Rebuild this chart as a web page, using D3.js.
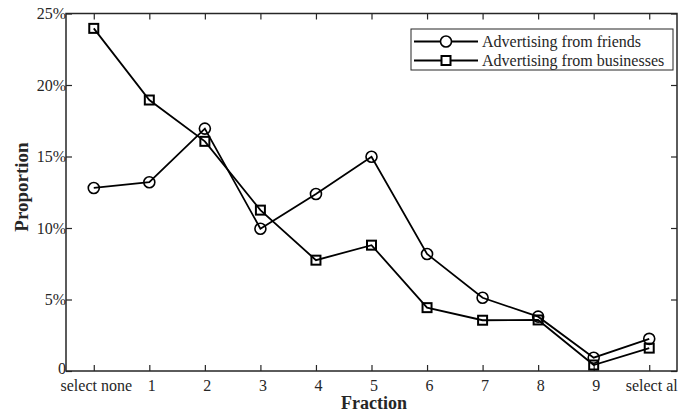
<!DOCTYPE html>
<html>
<head>
<meta charset="utf-8">
<script src="https://cdn.jsdelivr.net/npm/d3@7"></script>
<style>
  body { margin: 0; background: #fff; }
  svg text { font-family: "Liberation Serif", "Times New Roman", serif; fill: #262626; }
</style>
</head>
<body>
<svg width="678" height="414"></svg>
<script>
// data
const categories = ["select none", "1", "2", "3", "4", "5", "6", "7", "8", "9", "select al"];
const friends = [12.8, 13.2, 16.95, 9.95, 12.38, 14.98, 8.18, 5.12, 3.8, 0.93, 2.25];
const businesses = [23.96, 18.95, 16.06, 11.25, 7.75, 8.8, 4.43, 3.55, 3.57, 0.42, 1.6];
const yTicks = [0, 5, 10, 15, 20, 25];
const seriesNames = ["Advertising from friends", "Advertising from businesses"];

const svg = d3.select("svg");
const plotL = 66, plotR = 677, plotT = 13.5, plotB = 371;
const ink = "#262626";

const x = d3.scalePoint().domain(categories).range([plotL, plotR]).padding(0.5);
const y = d3.scaleLinear().domain([0, 25]).range([plotB, plotT]);

// bottom axis - ticks point inward
const xAxis = svg.append("g")
    .attr("transform", `translate(0,${plotB})`)
    .call(d3.axisBottom(x).tickSizeInner(-6).tickSizeOuter(0).tickPadding(9));
xAxis.selectAll("text").attr("dx", 2).style("font-size", "16px");

// top mirror ticks
svg.append("g")
    .attr("transform", `translate(0,${plotT})`)
    .call(d3.axisTop(x).tickSizeInner(-6).tickSizeOuter(0).tickFormat(""));

// left axis
const yAxis = svg.append("g")
    .attr("transform", `translate(${plotL},0)`)
    .call(d3.axisLeft(y).tickValues(yTicks).tickSizeInner(-6).tickSizeOuter(0).tickPadding(0)
        .tickFormat(d => d === 0 ? "0" : d + "%"));
yAxis.selectAll("text").attr("x", 0).style("font-size", "16px")
    .attr("dy", d => d === 0 ? "0.15em" : "0.32em");

// right mirror ticks
svg.append("g")
    .attr("transform", `translate(${plotR},0)`)
    .call(d3.axisRight(y).tickValues(yTicks).tickSizeInner(-6).tickSizeOuter(0).tickFormat(""));

svg.selectAll(".domain").remove();
svg.selectAll(".tick line").attr("stroke", ink).attr("stroke-width", 1.2);
svg.selectAll(".tick text").attr("fill", ink).style("font-family", "Liberation Serif, serif");

// box
svg.append("rect")
    .attr("x", plotL).attr("y", plotT)
    .attr("width", plotR - plotL).attr("height", plotB - plotT)
    .attr("fill", "none").attr("stroke", ink).attr("stroke-width", 1.5);

// axis titles
svg.append("text")
    .attr("x", 374).attr("y", 409)
    .attr("text-anchor", "middle")
    .style("font-size", "18px").style("font-weight", "bold")
    .text("Fraction");

svg.append("text")
    .attr("transform", "translate(28,187) rotate(-90)")
    .attr("text-anchor", "middle")
    .style("font-size", "19px").style("font-weight", "bold")
    .text("Proportion");

const line = d3.line().x((d, i) => x(categories[i])).y(d => y(d));

// friends series
svg.append("path").datum(friends)
    .attr("d", line).attr("fill", "none")
    .attr("stroke", "#000").attr("stroke-width", 1.8);
svg.append("g").selectAll("circle").data(friends).enter().append("circle")
    .attr("cx", (d, i) => x(categories[i])).attr("cy", d => y(d))
    .attr("r", 5.5).attr("fill", "none")
    .attr("stroke", "#000").attr("stroke-width", 1.6);

// businesses series
svg.append("path").datum(businesses)
    .attr("d", line).attr("fill", "none")
    .attr("stroke", "#000").attr("stroke-width", 1.8);
svg.append("g").selectAll("rect").data(businesses).enter().append("rect")
    .attr("x", (d, i) => x(categories[i]) - 4.5).attr("y", d => y(d) - 4.5)
    .attr("width", 9).attr("height", 9).attr("fill", "none")
    .attr("stroke", "#000").attr("stroke-width", 2);

// legend
const legend = svg.append("g");
legend.append("rect")
    .attr("x", 411).attr("y", 29).attr("width", 262).attr("height", 41)
    .attr("fill", "#fff").attr("stroke", ink).attr("stroke-width", 1);

seriesNames.forEach((name, i) => {
    const ly = 41.5 + i * 19;
    legend.append("line")
        .attr("x1", 414).attr("x2", 478).attr("y1", ly).attr("y2", ly)
        .attr("stroke", "#000").attr("stroke-width", 1.8);
    if (i === 0) {
        legend.append("circle").attr("cx", 446).attr("cy", ly).attr("r", 5.5)
            .attr("fill", "#fff").attr("stroke", "#000").attr("stroke-width", 1.6);
    } else {
        legend.append("rect").attr("x", 441.5).attr("y", ly - 4.5).attr("width", 9).attr("height", 9)
            .attr("fill", "#fff").attr("stroke", "#000").attr("stroke-width", 2);
    }
    legend.append("text")
        .attr("x", 482).attr("y", ly).attr("dy", "0.35em")
        .style("font-size", "16px")
        .text(name);
});
</script>
</body>
</html>
